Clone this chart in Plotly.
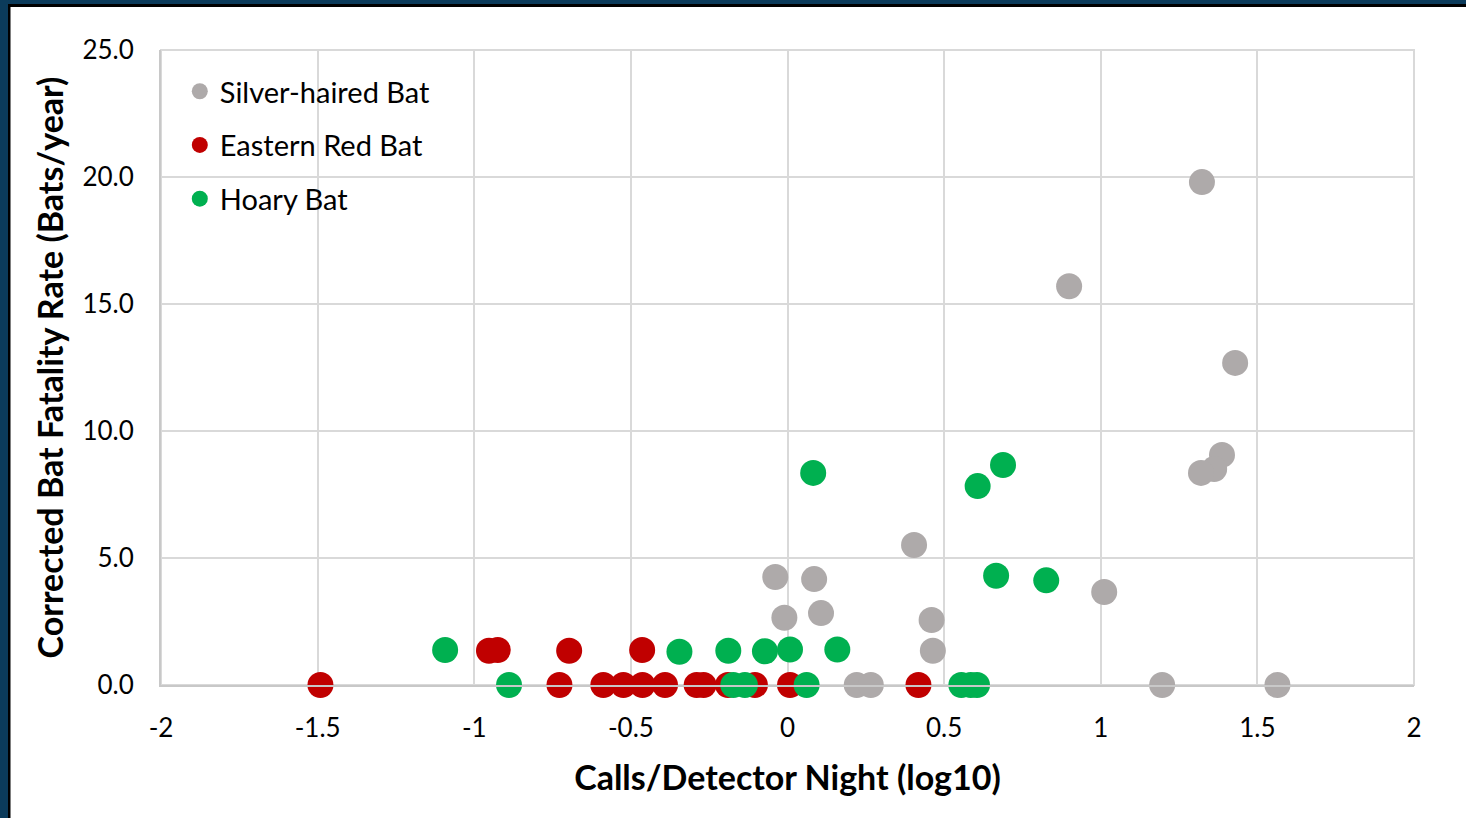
import plotly.graph_objects as go

# Calls per detector night (log10) and corrected fatality rate, by species
silver_x = [1.323, 0.899, 1.429, 1.387, 1.362, 1.320, 0.404, -0.039, 0.085,
            -0.010, 0.107, 0.460, 0.464, 1.011, 0.221, 0.266, 1.196, 1.564]
silver_y = [19.8, 15.7, 12.68, 9.06, 8.5, 8.35, 5.51, 4.25, 4.17,
            2.65, 2.83, 2.56, 1.35, 3.66, 0.0, 0.0, 0.0, 0.0]

red_x = [-1.491, -0.953, -0.925, -0.697, -0.464,
         -0.728, -0.588, -0.524, -0.463, -0.391, -0.290, -0.268,
         -0.190, -0.104, 0.008, 0.418]
red_y = [0.0, 1.35, 1.38, 1.35, 1.38,
         0.0, 0.0, 0.0, 0.0, 0.0, 0.0, 0.0,
         0.0, 0.0, 0.0, 0.0]

hoary_x = [-1.093, -0.889, -0.345, -0.189, -0.072, 0.008, 0.159,
           -0.173, -0.136, 0.061, 0.555, 0.585, 0.605,
           0.082, 0.607, 0.688, 0.666, 0.826]
hoary_y = [1.38, 0.0, 1.31, 1.35, 1.33, 1.40, 1.40,
           0.0, 0.0, 0.0, 0.0, 0.0, 0.0,
           8.35, 7.83, 8.66, 4.30, 4.12]

series = [
    ("Silver-haired Bat", silver_x, silver_y, "#AEAAAA"),
    ("Eastern Red Bat", red_x, red_y, "#C00000"),
    ("Hoary Bat", hoary_x, hoary_y, "#00B050"),
]

x_ticks = [-2, -1.5, -1, -0.5, 0, 0.5, 1, 1.5, 2]
x_tick_text = ["-2", "-1.5", "-1", "-0.5", "0", "0.5", "1", "1.5", "2"]
y_ticks = [0, 5, 10, 15, 20, 25]

FONT = "Lato"
W, H = 1466, 818
ML, MR, MT, MB = 161, 52, 50, 133
PW, PH = W - ML - MR, H - MT - MB

fig = go.Figure()
for i, (name, xs, ys, col) in enumerate(series):
    fig.add_trace(go.Scatter(
        x=xs, y=ys, mode="markers", name=name, legendgroup=f"g{i}",
        marker=dict(size=26, color=col, line=dict(width=0)),
        cliponaxis=False,
    ))


def px_x(p):
    return (p - ML) / PW


def px_y(p):
    return 1 - (p - MT) / PH


shapes = [
    # outer frame: navy band with a thin black inner edge on left and top
    dict(type="rect", xref="paper", yref="paper", x0=px_x(0), x1=px_x(8),
         y0=px_y(H), y1=px_y(0), fillcolor="#0B3B5B", line=dict(width=0), layer="above"),
    dict(type="rect", xref="paper", yref="paper", x0=px_x(8), x1=px_x(10.5),
         y0=px_y(H), y1=px_y(4), fillcolor="#000000", line=dict(width=0), layer="above"),
    dict(type="rect", xref="paper", yref="paper", x0=px_x(0), x1=px_x(W),
         y0=px_y(4), y1=px_y(0), fillcolor="#0B3B5B", line=dict(width=0), layer="above"),
    dict(type="rect", xref="paper", yref="paper", x0=px_x(8), x1=px_x(W),
         y0=px_y(7), y1=px_y(4), fillcolor="#000000", line=dict(width=0), layer="above"),
    # plot area border
    dict(type="rect", xref="paper", yref="paper", x0=0, x1=1, y0=0, y1=1,
         line=dict(color="#D9D9D9", width=2), layer="below"),
]

fig.update_layout(
    width=W, height=H,
    margin=dict(l=ML, r=MR, t=MT, b=MB, pad=0),
    paper_bgcolor="white", plot_bgcolor="white",
    font=dict(family=FONT, color="#000000"),
    shapes=shapes,
    showlegend=True,
    legend=dict(
        x=0.015, y=0.975, xanchor="left", yanchor="top",
        bgcolor="rgba(255,255,255,0)", font=dict(size=29, family=FONT),
        tracegroupgap=13, itemsizing="trace",
    ),
    xaxis=dict(
        range=[-2, 2], tickvals=x_ticks, ticktext=x_tick_text,
        showgrid=True, gridcolor="#D9D9D9", gridwidth=2,
        zeroline=False, showline=True, linecolor="#C8C8C8", linewidth=2,
        ticks="", tickfont=dict(size=26, family=FONT), ticklabelstandoff=19,
        title=dict(text="<b>Calls/Detector Night (log10)</b>",
                   font=dict(size=34, family=FONT), standoff=24),
    ),
    yaxis=dict(
        range=[0, 25], tickvals=y_ticks, tickformat=".1f",
        showgrid=True, gridcolor="#D9D9D9", gridwidth=2,
        zeroline=False, showline=True, linecolor="#C8C8C8", linewidth=2,
        ticks="", tickfont=dict(size=26, family=FONT), ticklabelstandoff=20,
        title=dict(text="<b>Corrected Bat Fatality Rate (Bats/year)</b>",
                   font=dict(size=34, family=FONT), standoff=9),
    ),
)

fig.write_html("out.html")
